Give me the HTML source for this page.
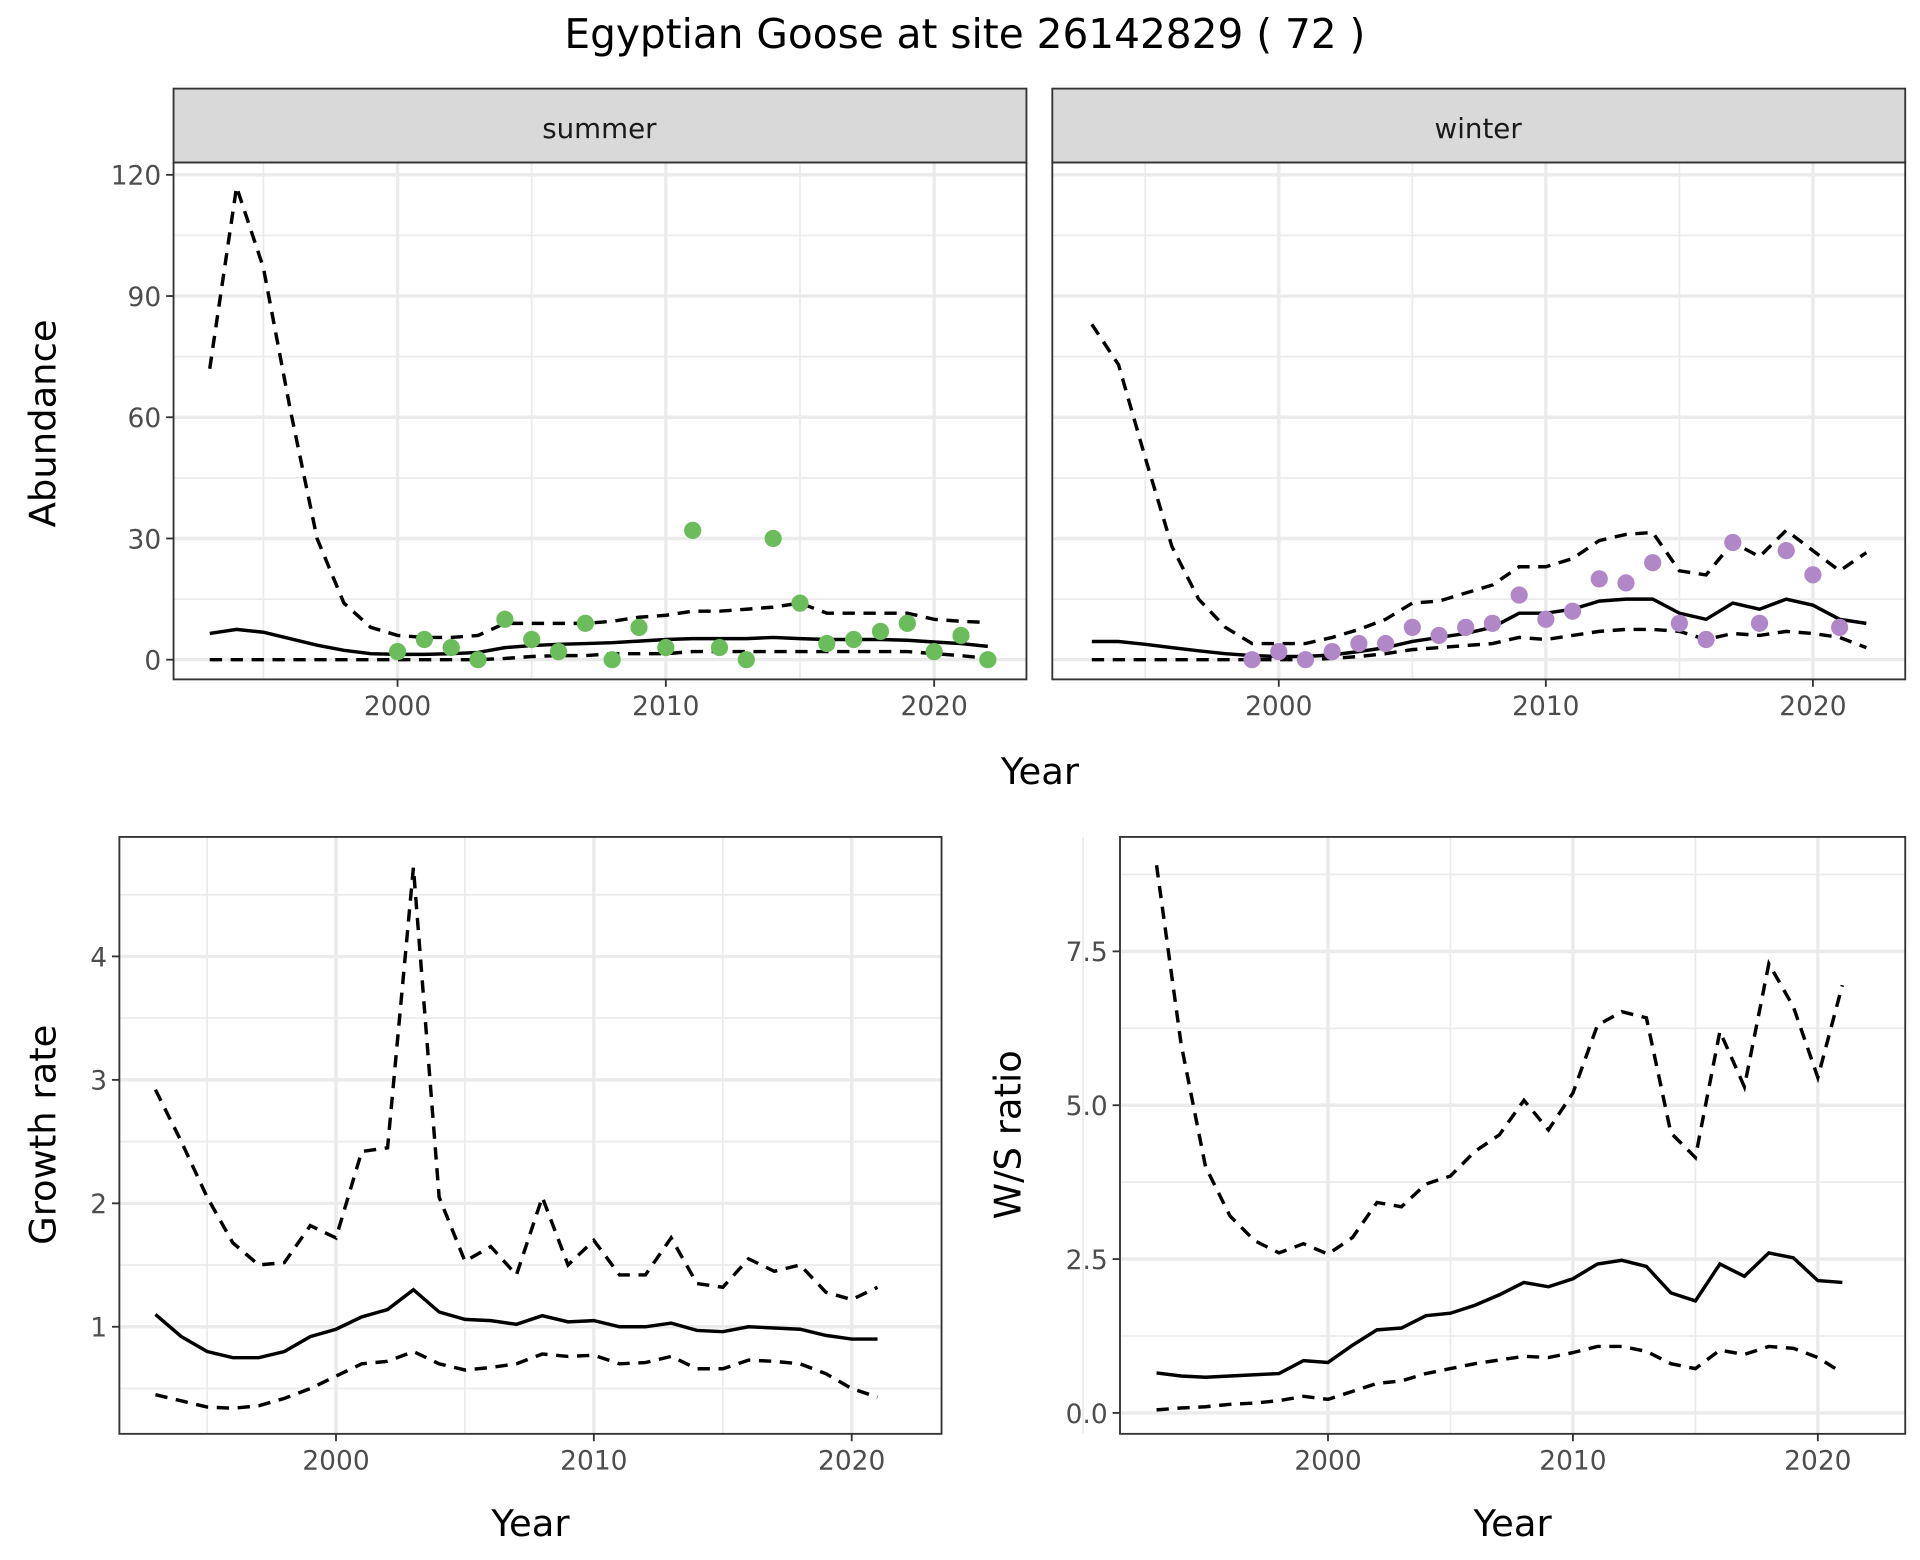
<!DOCTYPE html>
<html><head><meta charset="utf-8"><style>html,body{margin:0;padding:0;background:#fff}svg{display:block}</style></head>
<body>
<svg id="s" width="1920" height="1560" viewBox="0 0 1560 1267.5" xmlns="http://www.w3.org/2000/svg" font-family="DejaVu Sans, Liberation Sans, sans-serif"></svg>
<script>
const S=document.getElementById('s');let h='';
function line(x1,y1,x2,y2,c,w){h+=`<line x1="${x1}" y1="${y1}" x2="${x2}" y2="${y2}" stroke="${c}" stroke-width="${w}"/>`;}
function text(x,y,t,sz,anchor,rot,col){h+=`<text x="${x}" y="${y}" font-size="${sz}" fill="${col||'#4d4d4d'}" text-anchor="${anchor||'middle'}" ${rot?`transform="rotate(-90 ${x} ${y})"`:''}>${t}</text>`;}
function panel(o){
 const X=v=>o.x0+(v-o.xr)*o.xs, Y=v=>o.y0-(v-o.yr)*o.ys;
 h+=`<rect x="${o.L}" y="${o.T}" width="${o.R-o.L}" height="${o.B-o.T}" fill="#fff"/>`;
 o.ym.forEach(v=>line(o.L,Y(v),o.R,Y(v),'#ebebeb',1.4));
 o.xm.forEach(v=>line(X(v),o.T,X(v),o.B,'#ebebeb',1.4));
 o.yt.forEach(v=>line(o.L,Y(v),o.R,Y(v),'#ebebeb',2.8));
 o.xt.forEach(v=>line(X(v),o.T,X(v),o.B,'#ebebeb',2.8));
 const path=(d,dash)=>{let p=d.map((v,i)=>(i?'L':'M')+X(o.y1+i).toFixed(1)+','+Y(v).toFixed(1)).join('');h+=`<path d="${p}" fill="none" stroke="#000" stroke-width="2.8" ${dash?'stroke-dasharray="10,7"':''}/>`;};
 path(o.up,1);path(o.lo,1);path(o.m,0);
 if(o.pts)o.pts.forEach(p=>h+=`<circle cx="${X(p[0])}" cy="${Y(p[1])}" r="7" fill="${o.pc}"/>`);
 h+=`<rect x="${o.L}" y="${o.T}" width="${o.R-o.L}" height="${o.B-o.T}" fill="none" stroke="#333" stroke-width="1.5"/>`;
 o.xt.forEach(v=>{line(X(v),o.B,X(v),o.B+6,'#333',1.5);text(X(v),o.B+29,v,21.5);});
 if(o.ylab)o.yt.forEach((v,i)=>{line(o.L-6,Y(v),o.L,Y(v),'#333',1.5);text(o.L-10,Y(v)+8,o.ylab[i],21.5,'end');});
}
panel({L:141,R:834,T:132,B:552,x0:323,xr:2000,xs:21.8,y0:536,yr:0,ys:3.283,
 ym:[15,45,75,105],yt:[0,30,60,90,120],xm:[1995,2005,2015],xt:[2000,2010,2020],ylab:['0','30','60','90','120'],y1:1993,
 m:[6.5,7.5,6.8,5.2,3.6,2.3,1.5,1.3,1.3,1.5,1.8,3,3.5,3.8,4,4.2,4.6,5,5.2,5.2,5.2,5.5,5.2,5,5,5,4.8,4.4,4,3.3],
 up:[72,117,97,62,30,14,8,6,5.5,5.5,6,9,9,9,9,9.5,10.5,11,12,12,12.5,13,14,11.5,11.5,11.5,11.5,10,9.5,9.2],
 lo:[0,0,0,0,0,0,0,0,0,0,0,0.3,0.8,1,1,1.5,1.5,1.5,2,2,2,2,2,2,2,2,2,1.5,1,0.3],
 pc:'#6bbd5b',pts:[[2000,2],[2001,5],[2002,3],[2003,0],[2004,10],[2005,5],[2006,2],[2007,9],[2008,0],[2009,8],[2010,3],[2011,32],[2012,3],[2013,0],[2014,30],[2015,14],[2016,4],[2017,5],[2018,7],[2019,9],[2020,2],[2021,6],[2022,0]]});
panel({L:855,R:1548,T:132,B:552,x0:1039,xr:2000,xs:21.7,y0:536,yr:0,ys:3.283,
 ym:[15,45,75,105],yt:[0,30,60,90,120],xm:[1995,2005,2015],xt:[2000,2010,2020],y1:1993,
 m:[4.5,4.5,3.8,3,2.2,1.5,1,0.8,0.8,1.2,2,3,4.5,5.5,6.5,8,11.5,11.5,12.5,14.5,15,15,11.5,10,14,12.5,15,13.5,10,9],
 up:[83,73,50,28,15,8,4,4,4,5.5,7.5,10,14,14.5,16.5,18.5,23,23,25,29.5,31,31.5,22,21,29,25.5,32,27,22,26.5],
 lo:[0,0,0,0,0,0,0,0,0,0.3,0.8,1.5,2.5,3,3.5,4,5.5,5,6,7,7.5,7.5,7,5,6.5,6,7,6.5,5.5,3],
 pc:'#b088c8',pts:[[1999,0],[2000,2],[2001,0],[2002,2],[2003,4],[2004,4],[2005,8],[2006,6],[2007,8],[2008,9],[2009,16],[2010,10],[2011,12],[2012,20],[2013,19],[2014,24],[2015,9],[2016,5],[2017,29],[2018,9],[2019,27],[2020,21],[2021,8]]});
h+=`<rect x="141" y="72" width="693" height="60" fill="#d9d9d9" stroke="#333" stroke-width="1.5"/><rect x="855" y="72" width="693" height="60" fill="#d9d9d9" stroke="#333" stroke-width="1.5"/>`;
text(487,112,'summer',22.5,'middle',0,'#1a1a1a');text(1201,112,'winter',22.5,'middle',0,'#1a1a1a');
panel({L:97,R:765,T:680,B:1165,x0:273,xr:2000,xs:20.95,y0:1078,yr:1,ys:100.3,
 ym:[0.5,1.5,2.5,3.5,4.5],yt:[1,2,3,4],xm:[1995,2005,2015],xt:[2000,2010,2020],ylab:['1','2','3','4'],y1:1993,
 m:[1.1,0.92,0.8,0.75,0.75,0.8,0.92,0.98,1.08,1.14,1.3,1.12,1.06,1.05,1.02,1.09,1.04,1.05,1.0,1.0,1.03,0.97,0.96,1.0,0.99,0.98,0.93,0.9,0.9],
 up:[2.92,2.5,2.05,1.68,1.5,1.52,1.82,1.72,2.42,2.45,4.72,2.05,1.53,1.65,1.42,2.05,1.5,1.7,1.42,1.42,1.72,1.35,1.32,1.55,1.45,1.5,1.28,1.22,1.32],
 lo:[0.45,0.4,0.35,0.34,0.36,0.42,0.5,0.6,0.7,0.72,0.8,0.7,0.65,0.67,0.7,0.78,0.76,0.77,0.7,0.71,0.76,0.66,0.66,0.73,0.72,0.7,0.62,0.5,0.43]});
panel({L:910,R:1548,T:680,B:1165,x0:1079,xr:2000,xs:19.9,y0:1148,yr:0,ys:50,
 ym:[1.25,3.75,6.25,8.75],yt:[0,2.5,5,7.5],xm:[1990,2005,2015],xt:[2000,2010,2020],ylab:['0.0','2.5','5.0','7.5'],y1:1993,
 m:[0.65,0.6,0.58,0.6,0.62,0.64,0.85,0.82,1.1,1.35,1.38,1.58,1.62,1.75,1.92,2.12,2.05,2.18,2.42,2.48,2.38,1.95,1.82,2.42,2.22,2.6,2.52,2.15,2.12],
 up:[8.9,6,4,3.2,2.8,2.6,2.75,2.58,2.85,3.42,3.35,3.72,3.85,4.25,4.52,5.08,4.6,5.2,6.3,6.52,6.42,4.55,4.15,6.2,5.3,7.3,6.6,5.45,6.95],
 lo:[0.05,0.08,0.1,0.14,0.16,0.2,0.27,0.22,0.35,0.48,0.52,0.64,0.72,0.8,0.86,0.92,0.9,0.98,1.08,1.08,1.0,0.8,0.72,1.02,0.95,1.08,1.05,0.9,0.65]});
text(784,39,'Egyptian Goose at site 26142829 ( 72 )',33,'middle',0,'#000');
text(845,637,'Year',30,'middle',0,'#000');
text(45,344,'Abundance',30,'middle',1,'#000');
text(431,1248,'Year',30,'middle',0,'#000');
text(1229,1248,'Year',30,'middle',0,'#000');
text(45,922,'Growth rate',30,'middle',1,'#000');
text(829,922,'W/S ratio',30,'middle',1,'#000');
S.innerHTML=h;
</script>
</body></html>
